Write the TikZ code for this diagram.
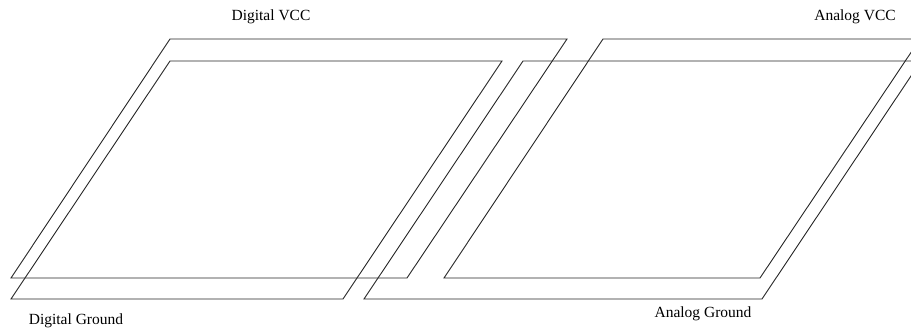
\documentclass[tikz,border=0pt]{standalone}
\usepackage{fontspec}
\setmainfont{Liberation Serif}
\begin{document}
\begin{tikzpicture}[x=1pt,y=-1pt,
  plane/.style={draw=black!85,line width=0.9pt,line join=miter},
  lbl/.style={inner sep=0pt,font=\fontsize{15.5}{18}\selectfont}]
\useasboundingbox (0,0) rectangle (911,330);
\clip (0,0) rectangle (911,330);
% Digital VCC plane
\draw[plane] (11,278) -- (407,278) -- (567,39) -- (170,39) -- cycle;
% Digital Ground plane
\draw[plane] (11,299) -- (343,299) -- (502,61) -- (170,61) -- cycle;
% Analog VCC plane
\draw[plane] (444,278) -- (760,278) -- (920,39) -- (603,39) -- cycle;
% Analog Ground plane
\draw[plane] (364,299) -- (762,299) -- (921,61) -- (523,61) -- cycle;
% labels
\node[lbl] (dvcc) at (271,17) {Digital VCC};
\node[lbl] (avcc) at (855,17) {Analog VCC};
\node[lbl] (dgnd) at (76,321) {Digital Ground};
\node[lbl] (agnd) at (703,314) {Analog Ground};
\end{tikzpicture}
\end{document}
